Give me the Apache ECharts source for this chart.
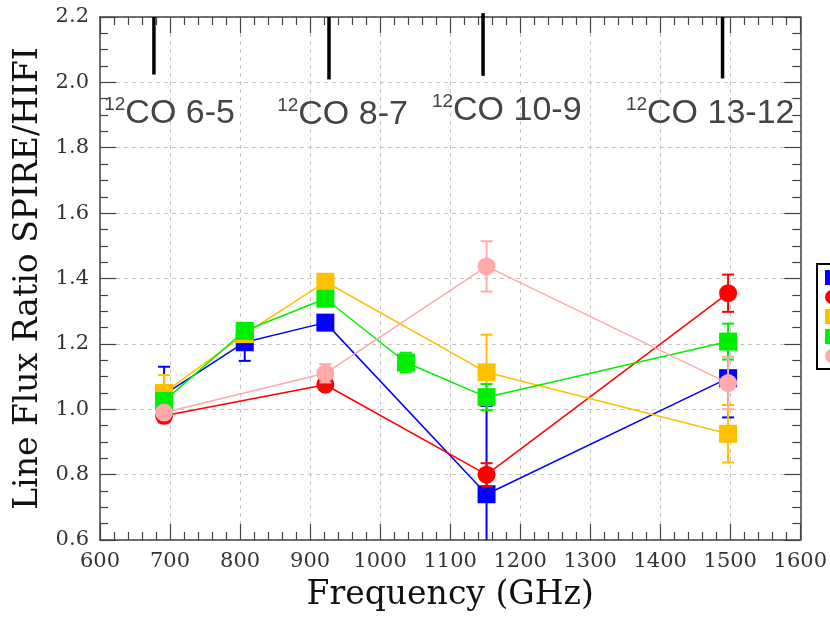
<!DOCTYPE html>
<html>
<head>
<meta charset="utf-8">
<script src="https://cdn.jsdelivr.net/npm/echarts@6/dist/echarts.min.js"></script>
<style>
html,body{margin:0;padding:0;background:#fff;}
#chart{width:830px;height:617px;}
</style>
</head>
<body>
<div id="chart"></div>
<script>
// ---- data ----
var seriesNames = ['Source 1', 'Source 2', 'Source 3', 'Source 4', 'Source 5'];
var blueFreq = [691.5, 806.7, 921.8, 1152.0, 1496.9];
var blueRatio = [1.045, 1.205, 1.265, 0.74, 1.095];
var blueErr = [0.085, 0.057, 0.02, 0.27, 0.12];

var redFreq = [691.5, 921.8, 1152.0, 1496.9];
var redRatio = [0.98, 1.075, 0.80, 1.355];
var redErr = [0.015, 0.015, 0.035, 0.057];

var yellowFreq = [691.5, 806.7, 921.8, 1152.0, 1496.9];
var yellowRatio = [1.05, 1.23, 1.39, 1.113, 0.925];
var yellowErr = [0.055, 0.02, 0.02, 0.115, 0.088];

var greenFreq = [691.5, 806.7, 921.8, 1036.9, 1152.0, 1496.9];
var greenRatio = [1.025, 1.24, 1.338, 1.143, 1.037, 1.207];
var greenErr = [0.025, 0.02, 0.015, 0.03, 0.04, 0.055];

var pinkFreq = [691.5, 921.8, 1152.0, 1496.9];
var pinkRatio = [0.99, 1.11, 1.437, 1.08];
var pinkErr = [0.015, 0.028, 0.077, 0.08];

var lineLabels = ['CO 6-5', 'CO 8-7', 'CO 10-9', 'CO 13-12'];
var lineMarkFreq = [677, 927, 1147, 1489];
var lineMarkTop = [2.2, 2.2, 2.212, 2.2];
var lineMarkBottom = [2.024, 2.009, 2.02, 2.012];
var labelFreq = [606, 853, 1074, 1351];
var labelRatio = [1.905, 1.9, 1.913, 1.905];

var xTicks = [600, 700, 800, 900, 1000, 1100, 1200, 1300, 1400, 1500, 1600];
var yTicks = [0.6, 0.8, 1.0, 1.2, 1.4, 1.6, 1.8, 2.0, 2.2];

// ---- build ----
var colors = ['#0000ff', '#ff0000', '#ffc000', '#00ee00', '#ffaaaa'];
var symbols = ['rect', 'circle', 'rect', 'rect', 'circle'];
var groups = [
  [blueFreq, blueRatio, blueErr],
  [redFreq, redRatio, redErr],
  [yellowFreq, yellowRatio, yellowErr],
  [greenFreq, greenRatio, greenErr],
  [pinkFreq, pinkRatio, pinkErr]
];

var series = [];
groups.forEach(function (g, i) {
  var pts = g[0].map(function (f, k) { return [f, g[1][k]]; });
  var errs = g[0].map(function (f, k) { return [f, g[1][k] - g[2][k], g[1][k] + g[2][k]]; });
  series.push({
    type: 'custom',
    name: seriesNames[i] + ' err',
    clip: true,
    z: 2 + i * 2,
    silent: true,
    data: errs,
    encode: { x: 0, y: [1, 2] },
    renderItem: (function (col) {
      return function (params, api) {
        var x = api.value(0);
        var lo = api.coord([x, api.value(1)]);
        var hi = api.coord([x, api.value(2)]);
        var cw = 6;
        var st = { stroke: col, lineWidth: 2 };
        return {
          type: 'group',
          children: [
            { type: 'line', shape: { x1: lo[0], y1: lo[1], x2: hi[0], y2: hi[1] }, style: st },
            { type: 'line', shape: { x1: lo[0] - cw, y1: lo[1], x2: lo[0] + cw, y2: lo[1] }, style: st },
            { type: 'line', shape: { x1: hi[0] - cw, y1: hi[1], x2: hi[0] + cw, y2: hi[1] }, style: st }
          ]
        };
      };
    })(colors[i])
  });
  series.push({
    type: 'line',
    name: seriesNames[i],
    data: pts,
    z: 3 + i * 2,
    symbol: symbols[i],
    symbolSize: 18,
    showAllSymbol: true,
    lineStyle: { color: colors[i], width: 1.5 },
    itemStyle: { color: colors[i] },
    emphasis: { disabled: true }
  });
});

// annotation lines and labels
var annData = lineMarkFreq.map(function (f, k) {
  return [f, lineMarkBottom[k], lineMarkTop[k], labelFreq[k], labelRatio[k], k];
});
series.push({
  type: 'custom',
  name: 'annotations',
  clip: false,
  silent: true,
  z: 20,
  data: annData,
  encode: { x: 0, y: 1 },
  renderItem: function (params, api) {
    var a = api.coord([api.value(0), api.value(1)]);
    var b = api.coord([api.value(0), api.value(2)]);
    var t = api.coord([api.value(3), api.value(4)]);
    var k = api.value(5);
    return {
      type: 'group',
      children: [
        { type: 'line', shape: { x1: a[0], y1: a[1], x2: b[0], y2: b[1] }, style: { stroke: '#000', lineWidth: 3.5 } },
        {
          type: 'text', x: t[0], y: t[1],
          style: {
            text: '{s|12}{t|' + lineLabels[k] + '}',
            align: 'left', verticalAlign: 'middle',
            rich: {
              s: { fontFamily: 'Liberation Sans', fontSize: 19, fill: '#444', verticalAlign: 'top', lineHeight: 37, padding: [0, 0, 14, 0] },
              t: { fontFamily: 'Liberation Sans', fontSize: 34, fill: '#444', lineHeight: 37 }
            }
          }
        }
      ]
    };
  }
});

var axisCol = '#444';
var chart = echarts.init(document.getElementById('chart'));
chart.setOption({
  animation: false,
  backgroundColor: '#fff',
  grid: { left: 100, right: 29, top: 17, bottom: 73 },
  legend: {
    orient: 'vertical',
    left: 817,
    top: 264,
    padding: [6, 10, 6, 8],
    itemWidth: 14,
    itemHeight: 15,
    itemGap: 5,
    borderColor: '#000',
    borderWidth: 2,
    textStyle: { fontSize: 14, color: '#000' },
    data: seriesNames.map(function (n, i) { return { name: n, icon: symbols[i] }; })
  },
  xAxis: [{
    type: 'value', min: xTicks[0], max: xTicks[xTicks.length - 1], interval: 100,
    position: 'bottom',
    axisLine: { show: true, lineStyle: { color: axisCol, width: 1.5 } },
    axisTick: { show: true, inside: true, length: 16, lineStyle: { color: axisCol, width: 1.2 } },
    minorTick: { show: true, splitNumber: 5, length: 8, lineStyle: { color: axisCol, width: 1.2 } },
    axisLabel: { fontFamily: 'DejaVu Serif', fontSize: 21, color: '#333', margin: 11,
      formatter: function (v) { return String(v); } },
    splitLine: { show: true, lineStyle: { type: [4, 4], color: '#c4c4c4', width: 1 } },
    name: 'Frequency (GHz)', nameLocation: 'middle', nameGap: 39,
    nameTextStyle: { fontFamily: 'DejaVu Serif', fontSize: 33, color: '#111' }
  }, {
    type: 'value', min: xTicks[0], max: xTicks[xTicks.length - 1], interval: 100,
    position: 'top',
    axisLine: { show: true, lineStyle: { color: axisCol, width: 1.5 } },
    axisTick: { show: true, inside: true, length: 16, lineStyle: { color: axisCol, width: 1.2 } },
    minorTick: { show: true, splitNumber: 5, length: 8, lineStyle: { color: axisCol, width: 1.2 } },
    axisLabel: { show: false },
    splitLine: { show: false }
  }],
  yAxis: [{
    type: 'value', min: yTicks[0], max: yTicks[yTicks.length - 1], interval: 0.2,
    position: 'left',
    axisLine: { show: true, lineStyle: { color: axisCol, width: 1.5 } },
    axisTick: { show: true, inside: true, length: 16, lineStyle: { color: axisCol, width: 1.2 } },
    minorTick: { show: true, splitNumber: 4, length: 8, lineStyle: { color: axisCol, width: 1.2 } },
    axisLabel: { fontFamily: 'DejaVu Serif', fontSize: 21, color: '#333', margin: 11,
      formatter: function (v) { return v.toFixed(1); } },
    splitLine: { show: true, lineStyle: { type: [4, 4], color: '#c4c4c4', width: 1 } },
    name: 'Line Flux Ratio SPIRE/HIFI', nameLocation: 'middle', nameGap: 49, nameRotate: 90,
    nameTextStyle: { fontFamily: 'DejaVu Serif', fontSize: 33, color: '#111' }
  }, {
    type: 'value', min: yTicks[0], max: yTicks[yTicks.length - 1], interval: 0.2,
    position: 'right',
    axisLine: { show: true, lineStyle: { color: axisCol, width: 1.5 } },
    axisTick: { show: true, inside: true, length: 16, lineStyle: { color: axisCol, width: 1.2 } },
    minorTick: { show: true, splitNumber: 4, length: 8, lineStyle: { color: axisCol, width: 1.2 } },
    axisLabel: { show: false },
    splitLine: { show: false }
  }],
  series: series
});
</script>
</body>
</html>
